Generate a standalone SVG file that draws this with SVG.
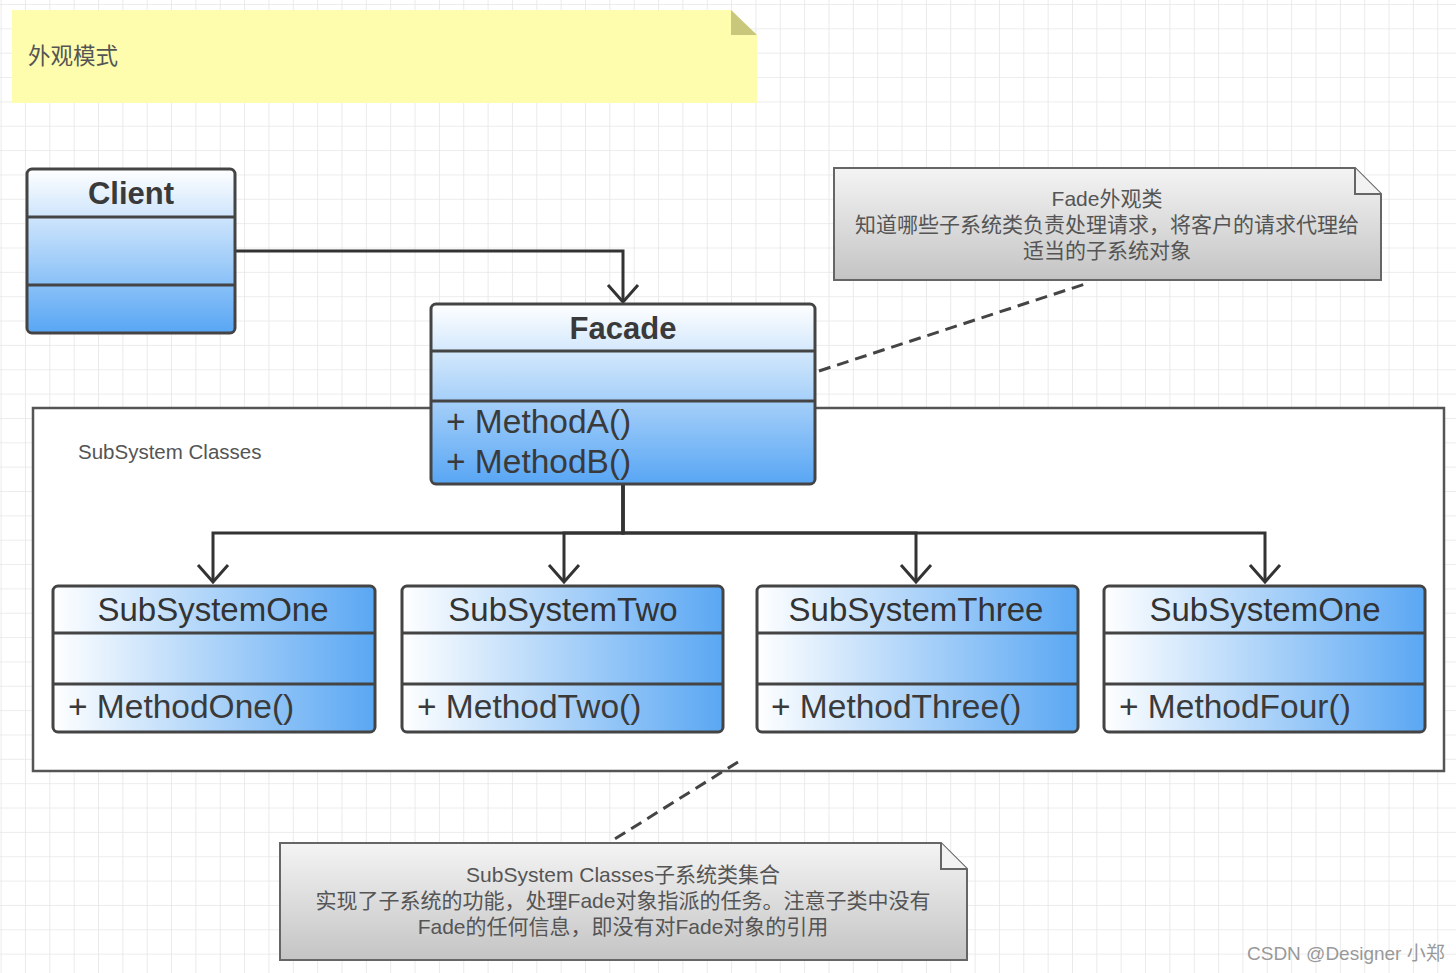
<svg xmlns="http://www.w3.org/2000/svg" width="1456" height="973" viewBox="0 0 1456 973">
<defs>
<pattern id="grid" patternUnits="userSpaceOnUse" x="0.6" y="4" width="24.35" height="24.35">
<path d="M0,0 V24.35 M0,0 H24.35" stroke="#e6e6e6" stroke-width="1.6" fill="none"/>
</pattern>
<linearGradient id="vblue" x1="0" y1="0" x2="0" y2="1">
<stop offset="0" stop-color="#ffffff"/>
<stop offset="1" stop-color="#58a6f4"/>
</linearGradient>
<linearGradient id="hblue" x1="0" y1="0" x2="1" y2="0">
<stop offset="0" stop-color="#ffffff"/>
<stop offset="1" stop-color="#5aa7f3"/>
</linearGradient>
<linearGradient id="gray" x1="0" y1="0" x2="0" y2="1">
<stop offset="0" stop-color="#f4f4f4"/>
<stop offset="1" stop-color="#c4c4c4"/>
</linearGradient>
<marker id="open" viewBox="-20 -17 23 34" refX="0" refY="0" markerWidth="23" markerHeight="34" orient="auto" markerUnits="userSpaceOnUse">
<path d="M-17,-15 L0,0 L-17,15" fill="none" stroke="#333" stroke-width="3"/>
</marker>
</defs>
<style>
.box{stroke:#444;stroke-width:3}
.sep{stroke:#444;stroke-width:3}
.title{font-family:"Liberation Sans",Arial,sans-serif;font-size:31px;font-weight:bold;fill:#3a3a3a;text-anchor:middle}
.stitle{font-family:"Liberation Sans",Arial,sans-serif;font-size:33px;fill:#333;text-anchor:middle}
.meth{font-family:"Liberation Sans",Arial,sans-serif;font-size:33.5px;fill:#3a3a3a}
.note{fill:url(#gray);stroke:#666;stroke-width:2}
.ntext{font-family:"Liberation Sans","Noto Sans CJK SC",sans-serif;font-size:21px;fill:#555;text-anchor:middle}
.conn{fill:none;stroke:#333;stroke-width:3}
.dash{fill:none;stroke:#444;stroke-width:3;stroke-dasharray:12 7}
</style>
<rect width="1456" height="973" fill="#ffffff"/>
<rect width="1456" height="973" fill="url(#grid)"/>

<g id="title-note">
<path d="M12,10 H731 L757,35 V103 H12 Z" fill="#fefdad"/>
<path d="M731,10 V35 H757 Z" fill="#c9c77c"/>
<text x="28" y="64" font-family="'Noto Sans CJK SC',sans-serif" font-size="22.5" fill="#555">外观模式</text>
</g>

<g id="subsystem-classes">
<rect x="33" y="408" width="1411" height="363" fill="#ffffff" stroke="#555" stroke-width="2.5"/>
<text x="78" y="459" font-family="'Liberation Sans',Arial,sans-serif" font-size="20.5" fill="#555">SubSystem Classes</text>
</g>

<g id="connectors">
<path class="conn" d="M235,251 H623 V302" marker-end="url(#open)"/>
<path class="conn" d="M623,484 V533 H213 V582" marker-end="url(#open)"/>
<path class="conn" d="M623,484 V533 H564 V582" marker-end="url(#open)"/>
<path class="conn" d="M623,484 V533 H916 V582" marker-end="url(#open)"/>
<path class="conn" d="M623,484 V533 H1265 V582" marker-end="url(#open)"/>
<path class="dash" d="M819,371 L1085,284"/>
<path class="dash" d="M738,762 L610,842"/>
</g>

<g id="client">
<rect class="box" x="27" y="169" width="208" height="164" rx="5" fill="url(#vblue)"/>
<line class="sep" x1="27" y1="217" x2="235" y2="217"/>
<line class="sep" x1="27" y1="285" x2="235" y2="285"/>
<text class="title" x="131" y="204">Client</text>
</g>

<g id="facade">
<rect class="box" x="431" y="304" width="384" height="180" rx="5" fill="url(#vblue)"/>
<line class="sep" x1="431" y1="351" x2="815" y2="351"/>
<line class="sep" x1="431" y1="401" x2="815" y2="401"/>
<text class="title" x="623" y="339">Facade</text>
<text class="meth" x="446" y="433">+ MethodA()</text>
<text class="meth" x="446" y="473">+ MethodB()</text>
</g>

<g id="subsystem-one">
<rect class="box" x="53" y="586" width="322" height="146" rx="5" fill="url(#hblue)"/>
<line class="sep" x1="53" y1="633" x2="375" y2="633"/>
<line class="sep" x1="53" y1="684" x2="375" y2="684"/>
<text class="stitle" x="213" y="621">SubSystemOne</text>
<text class="meth" x="68" y="718">+ MethodOne()</text>
</g>

<g id="subsystem-two">
<rect class="box" x="402" y="586" width="321" height="146" rx="5" fill="url(#hblue)"/>
<line class="sep" x1="402" y1="633" x2="723" y2="633"/>
<line class="sep" x1="402" y1="684" x2="723" y2="684"/>
<text class="stitle" x="563" y="621">SubSystemTwo</text>
<text class="meth" x="417" y="718">+ MethodTwo()</text>
</g>

<g id="subsystem-three">
<rect class="box" x="757" y="586" width="321" height="146" rx="5" fill="url(#hblue)"/>
<line class="sep" x1="757" y1="633" x2="1078" y2="633"/>
<line class="sep" x1="757" y1="684" x2="1078" y2="684"/>
<text class="stitle" x="916" y="621">SubSystemThree</text>
<text class="meth" x="771" y="718">+ MethodThree()</text>
</g>

<g id="subsystem-four">
<rect class="box" x="1104" y="586" width="321" height="146" rx="5" fill="url(#hblue)"/>
<line class="sep" x1="1104" y1="633" x2="1425" y2="633"/>
<line class="sep" x1="1104" y1="684" x2="1425" y2="684"/>
<text class="stitle" x="1265" y="621">SubSystemOne</text>
<text class="meth" x="1119" y="718">+ MethodFour()</text>
</g>

<g id="facade-note">
<path class="note" d="M834,168 H1355 L1381,194 V280 H834 Z"/>
<path d="M1355,168 V194 H1381" fill="#f2f2f2" stroke="#666" stroke-width="2"/>
<text class="ntext" x="1107" y="206">Fade外观类</text>
<text class="ntext" x="1107" y="232">知道哪些子系统类负责处理请求，将客户的请求代理给</text>
<text class="ntext" x="1107" y="258">适当的子系统对象</text>
</g>

<g id="subsystem-note">
<path class="note" d="M280,843 H941 L967,869 V960 H280 Z"/>
<path d="M941,843 V869 H967" fill="#f2f2f2" stroke="#666" stroke-width="2"/>
<text class="ntext" x="623" y="882">SubSystem Classes子系统类集合</text>
<text class="ntext" x="623" y="908">实现了子系统的功能，处理Fade对象指派的任务。注意子类中没有</text>
<text class="ntext" x="623" y="934">Fade的任何信息，即没有对Fade对象的引用</text>
</g>

<text x="1247" y="960" font-family="'Liberation Sans','Noto Sans CJK SC',sans-serif" font-size="19" fill="#999">CSDN @Designer 小郑</text>
</svg>
